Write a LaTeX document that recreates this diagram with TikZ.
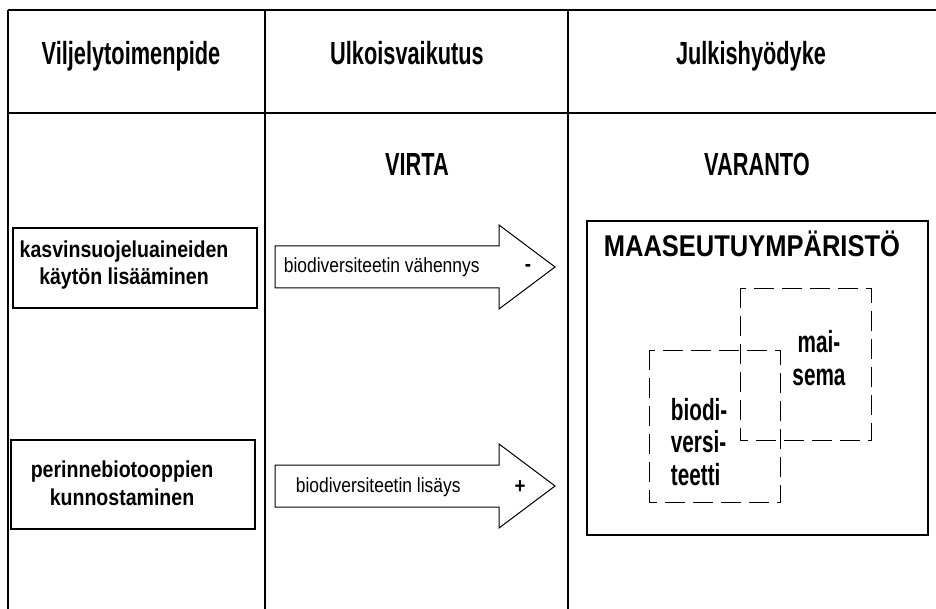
\documentclass[tikz,border=0pt]{standalone}
\usepackage{fontspec}
\setmainfont[FakeStretch=0.68]{Liberation Sans}
\newfontfamily\midfont[FakeStretch=0.85]{Liberation Sans}
\usetikzlibrary{calc}
\def\fatarrow[#1](#2){\draw[#1, shift={(#2)}] (0,-21) -- (224,-21) -- (224,-42) -- (280,0) -- (224,42) -- (224,21) -- (0,21) -- cycle;}

\begin{document}
\begin{tikzpicture}[x=1pt, y=-1pt, line width=1.1pt,
		heading/.style={font=\bfseries\fontsize{32}{34}\selectfont, anchor=base},
		actbox/.style={font=\midfont\bfseries\fontsize{23}{28}\selectfont, align=center, anchor=base},
		flowtext/.style={font=\midfont\fontsize{20.5}{24}\selectfont, anchor=base west},
		sign/.style={font=\midfont\bfseries\fontsize{22}{22}\selectfont},
		goodtext/.style={font=\bfseries\fontsize{30.5}{32.5}\selectfont, anchor=base},
		dashbox/.style={line width=0.9pt, dash pattern=on 20pt off 8pt}]
			%%%%% START %%%%%
			
			\useasboundingbox (0,0) rectangle (936,609);
			
			\draw (8,10) -- (936,10);
			\draw (8,113) -- (936,113);
			\draw (8,10) -- (8,609);
			\draw (265,10) -- (265,609);
			\draw (568,10) -- (568,609);
			
			\node[heading] (hdact) at (131,65) {Viljelytoimenpide};
			\node[heading] (hdext) at (407,65) {Ulkoisvaikutus};
			\node[heading] (hdpub) at (751,65) {Julkishyödyke};
			
			\node[heading] (flow) at (417,176) {VIRTA};
			\node[heading] (stock) at (757,176) {VARANTO};
			
			% multi-line nodes sit on the baseline of their last line
			\draw (13,228) rectangle (257,308);
			\node[actbox] (pest) at (124,285) {kasvinsuojeluaineiden\\käytön lisääminen};
			
			\draw (11,440) rectangle (255,529);
			\node[actbox] (meadow) at (122,505) {perinnebiotooppien\\kunnostaminen};
			
			\fatarrow[line width=1pt](275,267);
			\node[flowtext] (less) at (280,273) {biodiversiteetin vähennys};
			\node[sign] (minus) at (528,268) {-};
			
			\fatarrow[line width=1pt](275,486);
			\node[flowtext] (more) at (292,492) {biodiversiteetin lisäys};
			\node[sign] (plus) at (520,487) {+};
			
			\draw (587,221) rectangle (928,535);
			\node[font=\midfont\bfseries\fontsize{30}{30}\selectfont, anchor=base west] (rural) at (600,257) {MAASEUTUYMPÄRISTÖ};
			
			\draw[dashbox] (740,288) rectangle (871,440);
			\draw[dashbox] (649,350) rectangle (780,502);
			\node[goodtext, align=center] (land) at (819,385) {mai-\\sema};
			\node[goodtext, align=left, anchor=base west] (bio) at (667,485) {biodi-\\versi-\\teetti};
			
			%%%%% END %%%%%
		\end{tikzpicture}
\end{document}
